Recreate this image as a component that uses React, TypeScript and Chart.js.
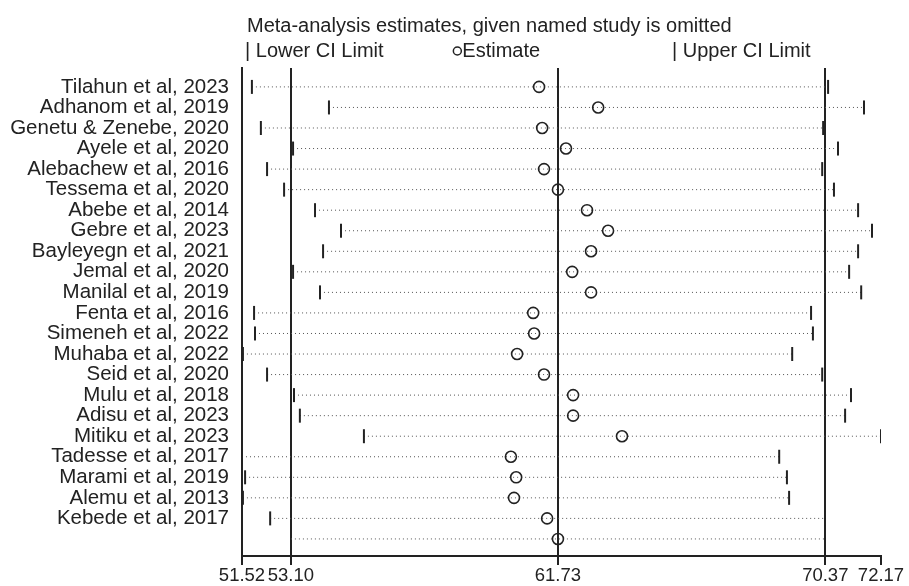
import React, { useEffect, useRef } from "react";
import { Chart, registerables } from "chart.js";

Chart.register(...registerables);

const studies = [
  "Tilahun et al, 2023",
  "Adhanom et al, 2019",
  "Genetu & Zenebe, 2020",
  "Ayele et al, 2020",
  "Alebachew et al, 2016",
  "Tessema et al, 2020",
  "Abebe et al, 2014",
  "Gebre et al, 2023",
  "Bayleyegn et al, 2021",
  "Jemal et al, 2020",
  "Manilal et al, 2019",
  "Fenta et al, 2016",
  "Simeneh et al, 2022",
  "Muhaba et al, 2022",
  "Seid et al, 2020",
  "Mulu et al, 2018",
  "Adisu et al, 2023",
  "Mitiku et al, 2023",
  "Tadesse et al, 2017",
  "Marami et al, 2019",
  "Alemu et al, 2013",
  "Kebede et al, 2017",
];

const lowerCI = [
  51.84, 54.33, 52.13, 53.17, 52.33, 52.88, 53.88, 54.72, 54.14, 53.17, 54.04,
  51.91, 51.94, 51.55, 52.33, 53.2, 53.39, 55.46, 51.52, 51.62, 51.55, 52.43,
];
const estimates = [
  61.12, 63.03, 61.22, 61.99, 61.28, 61.73, 62.67, 63.35, 62.8, 62.19, 62.8,
  60.93, 60.96, 60.41, 61.28, 62.22, 62.22, 63.8, 60.21, 60.38, 60.31, 61.38,
];
const upperCI = [
  70.46, 71.62, 70.3, 70.78, 70.27, 70.65, 71.43, 71.88, 71.43, 71.14, 71.53,
  69.91, 69.97, 69.3, 70.27, 71.2, 71.01, 72.17, 68.88, 69.13, 69.2, 70.36,
];

const overallEstimate = 61.73;
const overallLower = 53.1;
const overallUpper = 70.37;

const xTicks = [51.52, 53.1, 61.73, 70.37, 72.17];
const refLines = [53.1, 61.73, 70.37];

const FONT = "'Liberation Sans', Arial, sans-serif";

const headerPlugin = {
  id: "header",
  afterDraw(chart: any) {
    const { ctx, chartArea } = chart;
    const left = chartArea.left;
    const w = chartArea.right - chartArea.left;
    ctx.save();
    ctx.fillStyle = "#222";
    ctx.textBaseline = "alphabetic";
    ctx.textAlign = "left";
    ctx.font = `20px ${FONT}`;
    ctx.fillText("Meta-analysis estimates, given named study is omitted", left + 5, 32);
    ctx.fillText("| Lower CI Limit", left + 3, 57);
    const ex = left + w * 0.337;
    ctx.beginPath();
    ctx.arc(ex, 51, 4, 0, Math.PI * 2);
    ctx.lineWidth = 1.5;
    ctx.strokeStyle = "#222";
    ctx.stroke();
    ctx.fillText("Estimate", ex + 5, 57);
    ctx.fillText("| Upper CI Limit", left + w * 0.673, 57);
    ctx.restore();
  },
};

export default function App() {
  const ref = useRef<HTMLCanvasElement>(null);

  useEffect(() => {
    if (!ref.current) return;
    const n = studies.length;

    const dotted = {
      type: "line" as const,
      borderColor: "#555",
      borderWidth: 1,
      borderDash: [1, 3],
      pointRadius: 0,
      order: 5,
    };
    const ciLines: any[] = studies.map((_, i) => ({
      ...dotted,
      data: [
        { x: lowerCI[i], y: i },
        { x: upperCI[i], y: i },
      ],
    }));
    ciLines.push({
      ...dotted,
      data: [
        { x: overallLower, y: n },
        { x: overallUpper, y: n },
      ],
    });

    const chart = new Chart(ref.current, {
      type: "scatter",
      data: {
        datasets: [
          ...ciLines,
          {
            type: "scatter",
            data: studies.map((_, i) => ({ x: lowerCI[i], y: i })),
            pointStyle: "line",
            rotation: 90,
            pointRadius: 7,
            borderColor: "#222",
            borderWidth: 2,
            order: 2,
          },
          {
            type: "scatter",
            data: studies.map((_, i) => ({ x: upperCI[i], y: i })),
            pointStyle: "line",
            rotation: 90,
            pointRadius: 7,
            borderColor: "#222",
            borderWidth: 2,
            order: 2,
          },
          {
            type: "scatter",
            data: [
              ...studies.map((_, i) => ({ x: estimates[i], y: i })),
              { x: overallEstimate, y: n },
            ],
            pointStyle: "circle",
            pointRadius: 5.5,
            backgroundColor: "rgba(255,255,255,0)",
            borderColor: "#222",
            borderWidth: 1.6,
            order: 1,
          },
        ] as any,
      },
      options: {
        responsive: false,
        animation: false,
        events: [],
        layout: { padding: { top: 68, right: 28, left: 0, bottom: 0 } },
        plugins: {
          legend: { display: false },
          tooltip: { enabled: false },
        },
        scales: {
          x: {
            type: "linear",
            min: 51.52,
            max: 72.17,
            afterBuildTicks: (scale: any) => {
              scale.ticks = xTicks.map((v) => ({ value: v }));
            },
            afterFit: (scale: any) => {
              scale.height = 30;
            },
            ticks: {
              autoSkip: false,
              maxRotation: 0,
              padding: 0,
              color: "#222",
              font: { family: FONT, size: 18.5 },
              callback: (v: any) => Number(v).toFixed(2),
            },
            grid: {
              drawOnChartArea: true,
              drawTicks: true,
              tickLength: 9,
              lineWidth: 2,
              tickWidth: 2,
              tickColor: "#222",
              color: (ctx: any) =>
                ctx.tick && refLines.includes(ctx.tick.value) ? "#222" : "rgba(0,0,0,0)",
            },
            border: { display: true, color: "#222", width: 2 },
          },
          y: {
            type: "linear",
            reverse: true,
            min: -0.92,
            max: n + 0.83,
            afterBuildTicks: (scale: any) => {
              scale.ticks = studies.map((_, i) => ({ value: i }));
            },
            afterFit: (scale: any) => {
              scale.width = 242;
            },
            ticks: {
              autoSkip: false,
              padding: 13,
              color: "#222",
              font: { family: FONT, size: 20.5 },
              callback: (v: any) => studies[Number(v)] ?? "",
            },
            grid: { display: false, drawTicks: false },
            border: { display: true, color: "#222", width: 2 },
          },
        },
      },
      plugins: [headerPlugin],
    });
    return () => chart.destroy();
  }, []);

  return (
    <div style={{ position: "fixed", left: 0, top: 0, width: 909, height: 586, background: "#fff" }}>
      <canvas ref={ref} width={909} height={586} />
    </div>
  );
}
